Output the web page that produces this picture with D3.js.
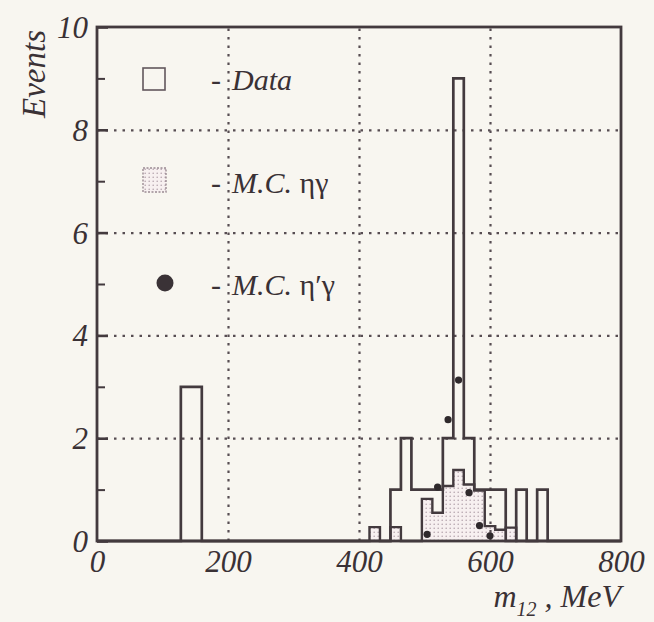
<!DOCTYPE html>
<html><head><meta charset="utf-8">
<script src="https://cdn.jsdelivr.net/npm/d3@7"></script>
<style>
html,body{margin:0;padding:0;background:#f8f6f0;}
svg{display:block;}
</style>
</head><body>
<svg id="c" width="654" height="622"></svg>
<script>
// ---- data ----
const binWidth = 16;
const dataBinStarts = [128,144,448,464,480,496,512,528,544,560,576,592,608,640,672];
const dataCounts    = [3,3,1,2,1,1,1,2,9,2,1,1,1,1,1];
const mcEtaBinStarts = [416,448,496,512,528,544,560,576,592,608,624];
const mcEtaValues    = [0.27,0.27,0.82,0.55,1.07,1.38,1.1,0.98,0.29,0.22,0.26];
const mcEtaPrimeMass   = [504,520,536,552,568,584,600];
const mcEtaPrimeValues = [0.13,1.05,2.36,3.13,0.94,0.3,0.1];
const xTicks = [0,200,400,600,800];
const yTicks = [0,2,4,6,8,10];
const yMinorTicks = [1,3,5,7,9];
const xGrid = [200,400,600];
const yGrid = [2,4,6,8];

// ---- layout ----
const W = 654, H = 622;
const m = {left:97, top:27, right:33, bottom:81};
const iw = W - m.left - m.right, ih = H - m.top - m.bottom;
const ink = "#433a3e";
const txt = "#3a3135";
const fontFam = "'Liberation Serif','Times New Roman',serif";

const svg = d3.select("#c");
svg.append("rect").attr("width",W).attr("height",H).attr("fill","#f8f6f0");
const defs = svg.append("defs");
const pat = defs.append("pattern").attr("id","dots").attr("width",4).attr("height",4)
  .attr("patternUnits","userSpaceOnUse");
pat.append("rect").attr("width",4).attr("height",4).attr("fill","#f7f0f0");
pat.append("circle").attr("cx",1.2).attr("cy",1.2).attr("r",0.8).attr("fill","#b3a3ab");

const g = svg.append("g").attr("transform",`translate(${m.left},${m.top})`);
const x = d3.scaleLinear().domain([0,800]).range([0,iw]);
const y = d3.scaleLinear().domain([0,10]).range([ih,0]);

function densePoints(starts, values){
  const mp = new Map(starts.map((s,i)=>[s,values[i]]));
  const pts = [];
  for(let e=0; e<800; e+=binWidth) pts.push([e, mp.get(e)||0]);
  pts.push([800,0]);
  return pts;
}
const stepLine = d3.line().x(d=>x(d[0])).y(d=>y(d[1])).curve(d3.curveStepAfter);
const stepArea = d3.area().x(d=>x(d[0])).y0(y(0)).y1(d=>y(d[1])).curve(d3.curveStepAfter);

const mcPts = densePoints(mcEtaBinStarts, mcEtaValues);
const dataPts = densePoints(dataBinStarts, dataCounts);

// MC eta-gamma shaded fill
g.append("path").datum(mcPts).attr("d",stepArea).attr("fill","url(#dots)");

// grid lines
const gridStyle = sel => sel.attr("stroke","#574d52").attr("stroke-width",2.2)
  .attr("stroke-dasharray","2.5,6");
g.append("g").call(d3.axisBottom(x).tickValues(xGrid).tickSize(-ih).tickFormat(""))
  .attr("transform",`translate(0,${ih})`)
  .call(a=>{a.select(".domain").remove(); a.selectAll("line").call(gridStyle);});
g.append("g").call(d3.axisLeft(y).tickValues(yGrid).tickSize(-iw).tickFormat(""))
  .call(a=>{a.select(".domain").remove(); a.selectAll("line").call(gridStyle);});

// outlines
g.append("path").datum(mcPts).attr("d",stepLine).attr("fill","none")
  .attr("stroke",ink).attr("stroke-width",2.4).attr("stroke-linejoin","miter");
g.append("path").datum(dataPts).attr("d",stepLine).attr("fill","none")
  .attr("stroke",ink).attr("stroke-width",2.7).attr("stroke-linejoin","miter");

// MC eta' gamma points
g.selectAll("circle.ep").data(mcEtaPrimeMass).join("circle").attr("class","ep")
  .attr("cx",(d)=>x(d)).attr("cy",(d,i)=>y(mcEtaPrimeValues[i])).attr("r",3.6)
  .attr("fill","#2f292c");

// frame
g.append("rect").attr("width",iw).attr("height",ih).attr("fill","none")
  .attr("stroke",ink).attr("stroke-width",2.8);

// y axis ticks (inward) + labels
const yAx = g.append("g").call(d3.axisLeft(y).tickValues(yTicks).tickSize(-11).tickPadding(8));
yAx.select(".domain").remove();
yAx.selectAll("line").attr("stroke",ink).attr("stroke-width",2.6);
yAx.selectAll("text").attr("font-family",fontFam).attr("font-style","italic")
  .attr("font-size",31).attr("fill",txt).attr("x",-9).attr("dy","0.34em");
const yMin = g.append("g").call(d3.axisLeft(y).tickValues(yMinorTicks).tickSize(-8).tickFormat(""));
yMin.select(".domain").remove();
yMin.selectAll("line").attr("stroke",ink).attr("stroke-width",2);

// x axis labels
const xAx = g.append("g").attr("transform",`translate(0,${ih})`)
  .call(d3.axisBottom(x).tickValues(xTicks).tickSize(0));
xAx.select(".domain").remove();
xAx.selectAll("text").attr("font-family",fontFam).attr("font-style","italic")
  .attr("font-size",31).attr("fill",txt).attr("y",31).attr("dy",0);

// axis titles
svg.append("text").attr("transform","translate(45,74) rotate(-90)")
  .attr("text-anchor","middle").attr("font-family",fontFam).attr("font-style","italic")
  .attr("font-size",33).attr("fill",txt).text("Events");
const xt = svg.append("text").attr("x",621).attr("y",607).attr("text-anchor","end")
  .attr("font-family",fontFam).attr("font-style","italic").attr("font-size",32).attr("fill",txt);
xt.append("tspan").text("m");
xt.append("tspan").attr("font-size",20).attr("dy",9).text("12");
xt.append("tspan").attr("dy",-9).text(" , MeV");

// legend
const lg = svg.append("g");
lg.append("rect").attr("x",143).attr("y",68).attr("width",22).attr("height",22)
  .attr("fill","none").attr("stroke","#62575d").attr("stroke-width",1.6);
lg.append("rect").attr("x",143).attr("y",168).attr("width",23).attr("height",24)
  .attr("fill","url(#dots)").attr("stroke","#9a8a92").attr("stroke-width",1.4)
  .attr("stroke-dasharray","2,1.5");
lg.append("circle").attr("cx",165).attr("cy",283).attr("r",8.5).attr("fill","#3a3236");
const legText = [
  {y:90, parts:[["Data","italic"]]},
  {y:193, parts:[["M.C. ","italic"],["ηγ","normal"]]},
  {y:295, parts:[["M.C. ","italic"],["η′γ","normal"]]}
];
legText.forEach(l=>{
  lg.append("text").attr("x",211).attr("y",l.y).attr("font-family",fontFam)
    .attr("font-size",30).attr("fill",txt).text("-");
  const t = lg.append("text").attr("x",232).attr("y",l.y).attr("font-family",fontFam)
    .attr("font-size",30).attr("fill",txt);
  l.parts.forEach(p=>t.append("tspan").attr("font-style",p[1]).text(p[0]));
});
</script>
</body></html>
